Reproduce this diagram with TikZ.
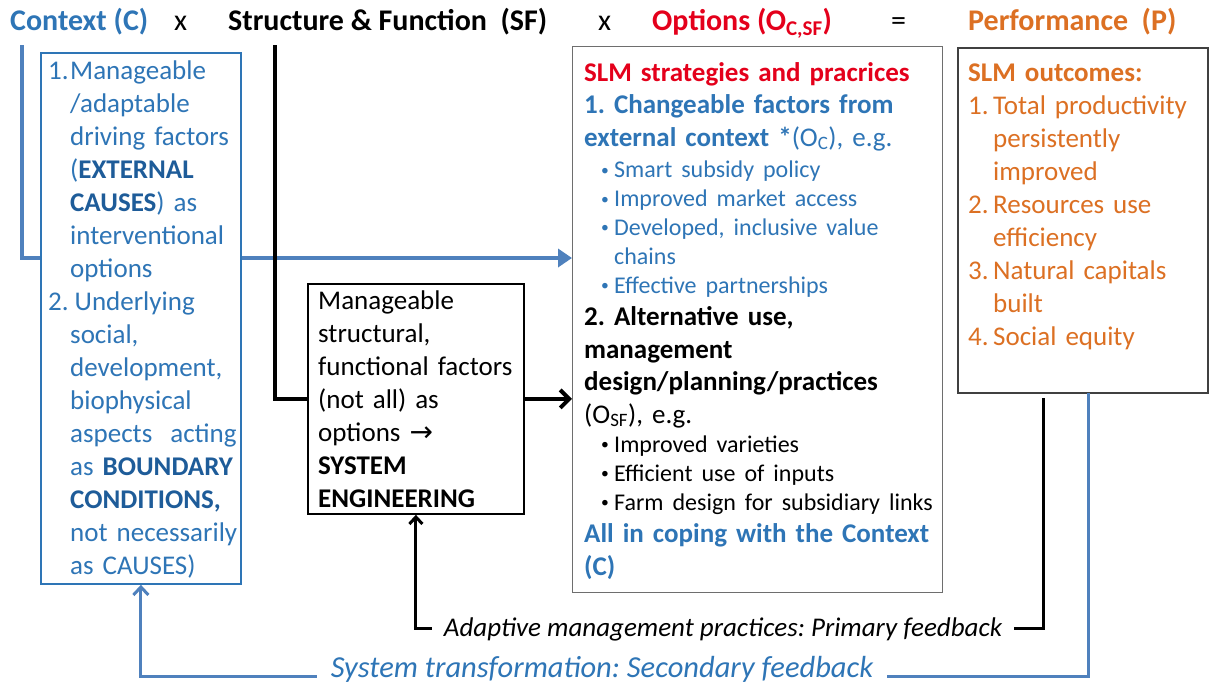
\documentclass[tikz,border=0pt]{standalone}
\usepackage{fontspec}
\setmainfont{Carlito}
\newfontfamily\arrowfont{DejaVu Sans}
\usetikzlibrary{arrows.meta}
\definecolor{ctxblue}{RGB}{46,117,182}
\definecolor{ctxdark}{RGB}{30,92,153}
\definecolor{lineblue}{RGB}{79,129,189}
\definecolor{optred}{RGB}{228,0,27}
\definecolor{perforange}{RGB}{220,112,35}
\definecolor{boxgray}{RGB}{110,110,110}
\newcommand{\nb}[1]{\makebox[22pt][l]{#1}}
\newcommand{\ind}{\hspace*{22pt}}
\newcommand{\nbp}[1]{\makebox[25pt][l]{#1}}
\newcommand{\indp}{\hspace*{25pt}}
\newcommand{\bl}{\makebox[14pt][l]{\hspace{1pt}\raisebox{2.5pt}{\scalebox{0.65}{\textbullet}}}}
\frenchspacing
\begin{document}
\frenchspacing
\begin{tikzpicture}[x=1pt,y=-1pt,
  body/.style={anchor=base west, inner sep=0pt, align=left, font=\fontsize{27}{33}\selectfont},
  ttl/.style={anchor=base west, inner sep=0pt, font=\fontsize{30}{34}\selectfont},
  ttlb/.style={anchor=base west, inner sep=0pt, font=\fontsize{30}{34}\selectfont\bfseries},
  frame/.style={draw, line width=1.8pt, fill=white, anchor=north west, inner sep=0pt},
  blueline/.style={draw=lineblue, line width=4.5pt},
  blackline/.style={draw=black, line width=4pt},
  fbblack/.style={draw=black, line width=3pt},
  fbblue/.style={draw=lineblue, line width=3pt},
]
\useasboundingbox (0,0) rectangle (1215,686);

% boxes
\node[frame, draw=ctxblue, minimum width=200pt, minimum height=531pt] (ctx) at (40,52) {};
\node[frame, draw=black, minimum width=216pt, minimum height=230pt] (mid) at (307,283) {};
\node[frame, draw=boxgray, line width=1.3pt, minimum width=370pt, minimum height=546pt] (opt) at (572,46) {};
\node[frame, draw=black!75, minimum width=250pt, minimum height=345pt] (perf) at (957,47) {};

% titles
\node[ttlb, text=ctxblue] (tC) at (10,30) {Context (C)};
\node[ttl] (x1) at (174,30) {x};
\node[ttlb] (tSF) at (228,30) {Structure \& Function\ \ (SF)};
\node[ttl] (x2) at (598,30) {x};
\node[ttlb, text=optred] (tO) at (652,30) {Options (O\textsubscript{C,SF})};
\node[ttl] (eq) at (891,30) {=};
\node[ttlb, text=perforange] (tP) at (968,30) {Performance\ \ (P)};

% context text
\node[body, text width=190pt, text=ctxblue] (ctxtxt) at (48,79) {%
\nb{1.}Manageable\\
\ind/adaptable\\
\ind driving factors\\
\ind({\color{ctxdark}\bfseries EXTERNAL}\\
\ind{\color{ctxdark}\bfseries CAUSES}) as\\
\ind interventional\\
\ind options\\
\nb{2.}\,Underlying\\
\ind social,\\
\ind development,\\
\ind biophysical\\
\ind aspects\ \ acting\\
\ind as {\color{ctxdark}\bfseries BOUNDARY}\\
\ind{\color{ctxdark}\bfseries CONDITIONS,}\\
\ind not necessarily\\
\ind as CAUSES)};

% middle text
\node[body, text width=205pt] (midtxt) at (318,309) {%
Manageable\\
structural,\\
functional factors\\
(not all) as\\
options {\arrowfont\fontsize{28}{33}\selectfont →}\\
\textbf{SYSTEM}\\
\textbf{ENGINEERING}};

% options text
\node[body, text width=400pt, font=\fontsize{27}{32.5}\selectfont] (opttxt) at (584,81) {%
{\color{optred}\bfseries SLM strategies and pracrices\par}
{\color{ctxblue}\bfseries 1. Changeable factors from\\ external context *}{\color{ctxblue}(O\textsubscript{C}), e.g.\par}
{\fontsize{24}{28.8}\selectfont\color{ctxblue}\vspace{3pt}\leftskip=16pt
\bl Smart subsidy policy\\
\bl Improved market access\\
\bl Developed, inclusive value\\
\hspace*{14pt}chains\\
\bl Effective partnerships\par}
{\bfseries 2. Alternative use,\\ management\\ design/planning/practices}\\
(O\textsubscript{SF}), e.g.\par
{\fontsize{24}{29}\selectfont\leftskip=16pt
\bl Improved varieties\\
\bl Efficient use of inputs\\
\bl Farm design for subsidiary links\par}
{\fontsize{27}{32.5}\selectfont\color{ctxblue}\bfseries All in coping with the Context\\ (C)\par}};

% performance text
\node[body, text width=240pt, text=perforange] (perftxt) at (968,81) {%
{\bfseries SLM outcomes:}\\
\nbp{1.}Total productivity\\
\indp persistently\\
\indp improved\\
\nbp{2.}Resources use\\
\indp efficiency\\
\nbp{3.}Natural capitals\\
\indp built\\
\nbp{4.}Social equity};

% feedback labels
\node[anchor=base, inner xsep=12pt, inner ysep=0pt, font=\fontsize{27}{30}\selectfont\itshape] (prim) at (723,636) {Adaptive management practices: Primary feedback};
\node[anchor=base, inner xsep=14pt, inner ysep=0pt, text=ctxblue, font=\fontsize{30.5}{34}\selectfont\itshape] (sec) at (602,677) {System transformation: Secondary feedback};

% connectors
\coordinate (ctop) at (22,45);
\coordinate (sftop) at (275,45);
\coordinate (ylevel) at (0,258);
\coordinate (pstart) at (1043,398);
\coordinate (sstart) at (1088,393);
\coordinate (sy) at (0,676);
\coordinate (py) at (0,628);
\draw[blueline] (ctop) |- (ctx.west |- ylevel);
\draw[blueline, -{Triangle[length=14pt,width=18pt]}] (ctx.east |- ylevel) -- (opt.west |- ylevel);
\draw[blackline] (sftop) |- (mid.west);
\draw[blackline, -{Straight Barb[length=9pt,width=18pt]}] (mid.east) -- (opt.west |- mid.east);
\draw[fbblack] (pstart) |- (prim.east |- py);
\draw[fbblack, -{Straight Barb[length=7pt,width=13pt]}] (prim.west |- py) -| (mid.south);
\draw[fbblue] (sstart) |- (sec.east |- sy);
\draw[fbblue, -{Straight Barb[length=8pt,width=15pt]}] (sec.west |- sy) -| (ctx.south);
\end{tikzpicture}
\end{document}
